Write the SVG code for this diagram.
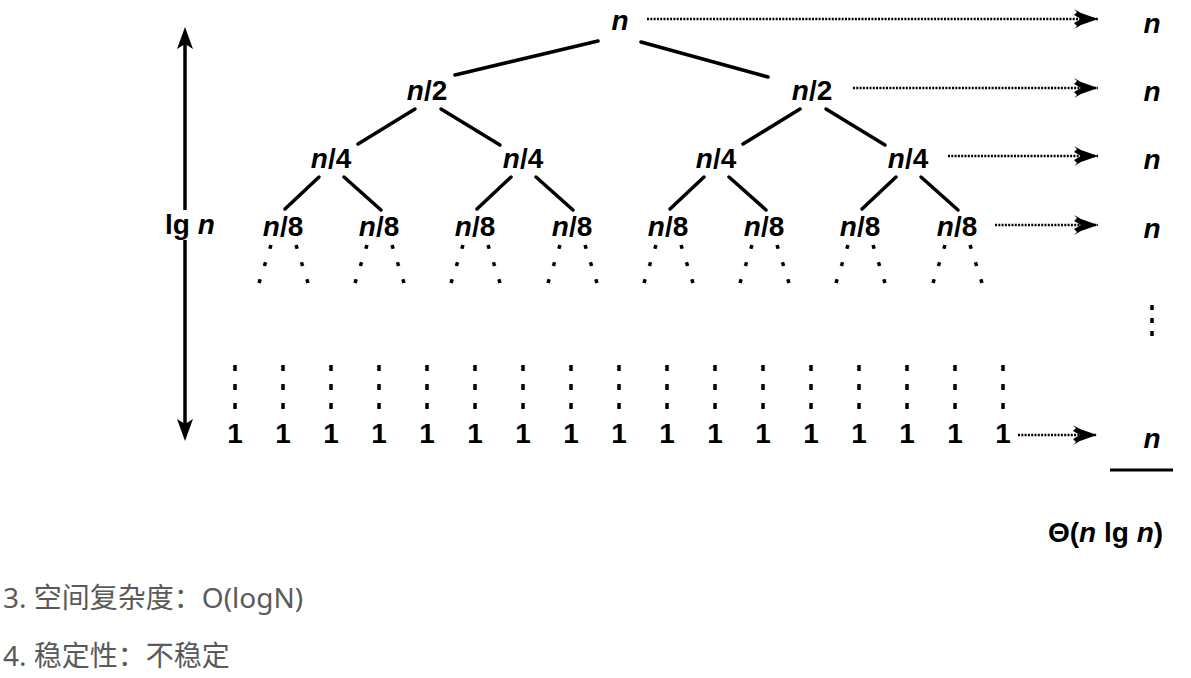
<svg xmlns="http://www.w3.org/2000/svg" width="1191" height="678" viewBox="0 0 1191 678">
<defs>
<style>
.lbl{font-family:"Liberation Sans",Arial,sans-serif;font-size:28px;font-weight:bold;fill:#000;text-anchor:middle}
.it{font-style:italic}
.edge{stroke:#000;stroke-width:3.5;stroke-linecap:round;fill:none}
.dotb{stroke:#000;stroke-width:3.5;stroke-dasharray:4 14;fill:none}
.vdot{stroke:#000;stroke-width:3.5;stroke-dasharray:6 13;fill:none}
.harr{stroke:#000;stroke-width:2.5;stroke-dasharray:2 1.3;fill:none}
.cap{font-family:"Noto Sans","Noto Sans CJK SC",sans-serif;font-size:28px;fill:#5a5a5a}
</style>
<marker id="ah" markerUnits="userSpaceOnUse" markerWidth="28" markerHeight="22" refX="25" refY="11" orient="auto">
<path d="M1,1 L4,4 L1,7 L8,11 L1,15 L4,18 L1,21 L8,17 L25,11 L8,5 Z" fill="#000"/>
</marker>
</defs>
<rect width="1191" height="678" fill="#fff"/>

<g id="connectors">
<!-- tree edges -->
<line class="edge" x1="598" y1="41" x2="455" y2="75"/>
<line class="edge" x1="641" y1="42" x2="768" y2="77"/>
<line class="edge" x1="415" y1="109" x2="358" y2="144"/>
<line class="edge" x1="441" y1="109" x2="500" y2="145"/>
<line class="edge" x1="800" y1="109" x2="743" y2="144"/>
<line class="edge" x1="826" y1="109" x2="885" y2="145"/>
<line class="edge" x1="319" y1="177" x2="285" y2="209"/>
<line class="edge" x1="344" y1="177" x2="381" y2="210"/>
<line class="edge" x1="511" y1="177" x2="477" y2="209"/>
<line class="edge" x1="536" y1="177" x2="573" y2="210"/>
<line class="edge" x1="704" y1="177" x2="670" y2="209"/>
<line class="edge" x1="729" y1="177" x2="766" y2="210"/>
<line class="edge" x1="896" y1="177" x2="862" y2="209"/>
<line class="edge" x1="921" y1="177" x2="958" y2="210"/>
<!-- dotted branches under n/8 -->
<g id="dotted-branches">
<path class="dotb" d="M271,245 L259,283 M296,245 L308,283"/>
<path class="dotb" d="M367,245 L355,283 M392,245 L404,283"/>
<path class="dotb" d="M463,245 L451,283 M488,245 L500,283"/>
<path class="dotb" d="M560,245 L548,283 M585,245 L597,283"/>
<path class="dotb" d="M656,245 L644,283 M681,245 L693,283"/>
<path class="dotb" d="M752,245 L740,283 M777,245 L789,283"/>
<path class="dotb" d="M848,245 L836,283 M873,245 L885,283"/>
<path class="dotb" d="M945,245 L933,283 M970,245 L982,283"/>
</g>
<!-- vertical dots above leaves -->
<g id="leaf-dots">
<path class="vdot" d="M235,365 V409 M283,365 V409 M331,365 V409 M379,365 V409 M427,365 V409 M475,365 V409 M523,365 V409 M571,365 V409 M619,365 V409 M667,365 V409 M715,365 V409 M763,365 V409 M811,365 V409 M859,365 V409 M907,365 V409 M955,365 V409 M1003,365 V409"/>
</g>
<!-- right column dots -->
<path class="vdot" d="M1152,305 V338" style="stroke-dasharray:5 8"/>
<!-- horizontal dotted arrows -->
<line class="harr" x1="647" y1="19" x2="1098" y2="19" marker-end="url(#ah)"/>
<line class="harr" x1="853" y1="88" x2="1098" y2="88" marker-end="url(#ah)"/>
<line class="harr" x1="948" y1="156" x2="1098" y2="156" marker-end="url(#ah)"/>
<line class="harr" x1="995" y1="225" x2="1098" y2="225" marker-end="url(#ah)"/>
<line class="harr" x1="1018" y1="435" x2="1097" y2="435" marker-end="url(#ah)"/>
<!-- lg n double arrow -->
<g id="lg-arrow">
<line x1="185" y1="40" x2="185" y2="210" stroke="#000" stroke-width="3.5"/>
<line x1="185" y1="240" x2="185" y2="428" stroke="#000" stroke-width="3.5"/>
<polygon points="185,27 193,49 185,44 177,49" fill="#000"/>
<polygon points="185,441 193,419 185,424 177,419" fill="#000"/>
</g>
<!-- sum underline -->
<line x1="1110" y1="470" x2="1173" y2="470" stroke="#000" stroke-width="3"/>
</g>

<g id="n-root"><text class="lbl it" x="620" y="30">n</text></g>
<g id="n2-a"><text class="lbl" x="427" y="100"><tspan class="it">n</tspan>/2</text></g>
<g id="n2-b"><text class="lbl" x="812" y="100"><tspan class="it">n</tspan>/2</text></g>
<g id="n4-a"><text class="lbl" x="331" y="168"><tspan class="it">n</tspan>/4</text></g>
<g id="n4-b"><text class="lbl" x="523" y="168"><tspan class="it">n</tspan>/4</text></g>
<g id="n4-c"><text class="lbl" x="716" y="168"><tspan class="it">n</tspan>/4</text></g>
<g id="n4-d"><text class="lbl" x="908" y="168"><tspan class="it">n</tspan>/4</text></g>
<g id="n8-a"><text class="lbl" x="283" y="236"><tspan class="it">n</tspan>/8</text></g>
<g id="n8-b"><text class="lbl" x="379" y="236"><tspan class="it">n</tspan>/8</text></g>
<g id="n8-c"><text class="lbl" x="475" y="236"><tspan class="it">n</tspan>/8</text></g>
<g id="n8-d"><text class="lbl" x="572" y="236"><tspan class="it">n</tspan>/8</text></g>
<g id="n8-e"><text class="lbl" x="668" y="236"><tspan class="it">n</tspan>/8</text></g>
<g id="n8-f"><text class="lbl" x="764" y="236"><tspan class="it">n</tspan>/8</text></g>
<g id="n8-g"><text class="lbl" x="860" y="236"><tspan class="it">n</tspan>/8</text></g>
<g id="n8-h"><text class="lbl" x="957" y="236"><tspan class="it">n</tspan>/8</text></g>

<g id="leaves">
<text class="lbl" x="235" y="443">1</text><text class="lbl" x="283" y="443">1</text><text class="lbl" x="331" y="443">1</text><text class="lbl" x="379" y="443">1</text><text class="lbl" x="427" y="443">1</text><text class="lbl" x="475" y="443">1</text><text class="lbl" x="523" y="443">1</text><text class="lbl" x="571" y="443">1</text><text class="lbl" x="619" y="443">1</text><text class="lbl" x="667" y="443">1</text><text class="lbl" x="715" y="443">1</text><text class="lbl" x="763" y="443">1</text><text class="lbl" x="811" y="443">1</text><text class="lbl" x="859" y="443">1</text><text class="lbl" x="907" y="443">1</text><text class="lbl" x="955" y="443">1</text><text class="lbl" x="1003" y="443">1</text>
</g>

<g id="lg-n"><text class="lbl" x="165" y="234" style="text-anchor:start">lg <tspan class="it">n</tspan></text></g>

<g id="row-sums">
<text class="lbl it" x="1152" y="33">n</text>
<text class="lbl it" x="1152" y="101">n</text>
<text class="lbl it" x="1152" y="169">n</text>
<text class="lbl it" x="1152" y="238">n</text>
<text class="lbl it" x="1152" y="448">n</text>
</g>

<g id="total"><text class="lbl" x="1048" y="542" style="text-anchor:start">Θ(<tspan class="it">n</tspan> lg <tspan class="it">n</tspan>)</text></g>

<g id="captions">
<text class="cap" x="3" y="608">3. 空间复杂度：O(logN)</text>
<text class="cap" x="3" y="666">4. 稳定性：不稳定</text>
</g>
</svg>
